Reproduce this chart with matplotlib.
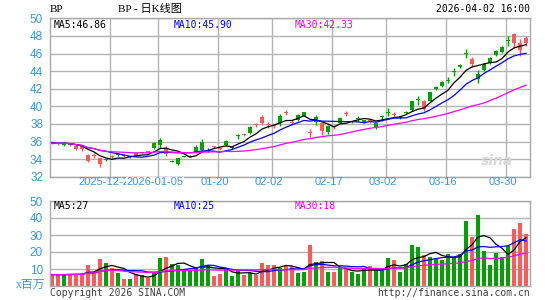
import matplotlib
matplotlib.use('Agg')
import matplotlib.pyplot as plt
import numpy as np
import pandas as pd

# ---------------- data ----------------
opens = [35.95, 35.80, 35.56, 35.68, 35.45, 35.50, 34.50, 34.47, 34.10, 33.90,
         34.35, 34.47, 34.50, 34.22, 34.65, 34.72, 34.83, 35.30, 35.56, 35.30,
         33.72, 33.45, 34.27, 34.27, 34.80, 35.00, 34.97, 35.43, 35.23, 35.60,
         35.27, 36.57, 36.83, 37.00, 37.93, 38.80, 37.93, 37.83, 38.05, 39.28,
         38.25, 38.42, 38.95, 37.00, 38.20, 38.14, 37.08, 37.68, 38.14, 39.19,
         38.19, 38.57, 38.14, 38.33, 37.60, 38.77, 39.27, 39.08, 38.67, 39.27,
         39.60, 40.67, 40.60, 40.60, 42.02, 42.30, 42.87, 43.87, 44.45, 45.91,
         45.35, 43.05, 44.10, 44.90, 45.78, 46.15, 47.37, 48.25, 47.20, 47.80]
closes = [35.85, 35.72, 35.86, 35.60, 35.20, 35.10, 33.80, 34.40, 33.40, 33.97,
          34.28, 34.53, 34.30, 34.28, 34.40, 34.78, 34.77, 35.85, 36.20, 34.60,
          33.78, 34.10, 34.33, 34.33, 35.35, 35.90, 35.03, 35.37, 35.17, 36.05,
          35.33, 36.63, 36.77, 37.70, 37.87, 38.10, 37.87, 37.77, 38.95, 39.22,
          38.15, 39.02, 39.30, 36.93, 38.80, 37.16, 37.76, 37.62, 38.67, 39.13,
          38.25, 38.63, 38.40, 38.27, 38.10, 38.83, 39.33, 39.02, 38.73, 39.33,
          40.55, 40.73, 39.70, 41.60, 42.08, 42.80, 42.93, 43.93, 44.75, 45.97,
          44.80, 43.70, 44.85, 45.50, 46.30, 46.75, 47.43, 47.20, 46.45, 47.20]
highs = [36.10, 35.90, 35.95, 35.80, 35.55, 35.60, 34.60, 34.65, 34.15, 34.05,
         34.50, 34.60, 34.55, 34.35, 34.70, 34.85, 34.90, 35.90, 36.40, 35.50,
         33.85, 34.15, 34.40, 34.45, 35.55, 36.30, 35.30, 35.50, 35.35, 36.15,
         35.50, 36.85, 36.95, 37.75, 38.05, 39.00, 38.20, 38.00, 39.10, 39.55,
         38.50, 39.10, 39.35, 37.40, 39.00, 38.20, 37.90, 37.85, 38.75, 39.45,
         38.35, 38.85, 38.45, 38.45, 38.15, 39.00, 39.80, 39.35, 38.85, 39.50,
         40.60, 41.20, 40.75, 41.65, 42.30, 42.85, 43.30, 44.30, 44.80, 46.50,
         45.60, 44.10, 44.90, 45.55, 46.35, 46.80, 48.00, 48.35, 47.60, 48.00]
lows = [35.70, 35.60, 35.45, 35.45, 35.05, 34.90, 33.70, 34.10, 33.15, 33.80,
        34.10, 34.40, 34.20, 34.15, 34.35, 34.65, 34.70, 35.20, 35.30, 34.40,
        33.65, 33.30, 34.20, 34.20, 34.70, 34.90, 34.85, 35.30, 35.05, 35.50,
        35.10, 36.30, 36.60, 36.90, 37.70, 37.90, 37.50, 37.50, 37.80, 39.05,
        37.90, 38.30, 38.85, 36.50, 37.85, 36.70, 36.80, 37.45, 38.05, 38.95,
        38.10, 38.30, 38.05, 38.15, 37.40, 38.30, 38.90, 38.75, 38.55, 39.10,
        39.50, 40.20, 39.50, 40.50, 41.80, 42.20, 42.60, 43.50, 44.40, 45.45,
        44.50, 42.70, 44.00, 44.80, 45.70, 46.05, 46.90, 46.60, 45.70, 46.80]
volumes = [6.7, 6.7, 6.7, 7.0, 7.0, 7.0, 12.4, 8.0, 15.9, 13.5,
           10.6, 7.6, 4.1, 4.1, 7.0, 6.3, 4.7, 7.6, 16.5, 17.0,
           13.0, 12.4, 8.6, 8.6, 10.6, 15.9, 12.4, 5.9, 7.0, 10.6,
           5.9, 8.6, 6.5, 7.5, 6.5, 13.5, 12.4, 12.4, 10.6, 11.6,
           11.8, 7.5, 8.2, 24.0, 14.0, 14.7, 8.2, 8.2, 10.6, 10.0,
           8.2, 7.0, 10.0, 11.8, 9.4, 9.4, 16.5, 15.3, 8.2, 13.0,
           24.0, 23.0, 18.2, 17.0, 16.5, 15.3, 18.8, 16.5, 18.8, 38.2,
           28.8, 41.8, 20.6, 12.4, 19.4, 17.0, 23.5, 33.5, 37.0, 30.6]
tick_idx = [10, 18, 28, 37, 47, 56, 66, 76]
tick_labels = ['2025-12-22', '2026-01-05', '01-20', '02-02', '02-17', '03-02', '03-16', '03-30']
price_ma_labels = ['MA5:46.86', 'MA10:45.90', 'MA30:42.33']
vol_ma_labels = ['MA5:27', 'MA10:25', 'MA30:18']
title_left = 'BP'
title_mid = 'BP - 日K线图'
title_right = '2026-04-02 16:00'
vol_unit = 'x百万'
copyright_text = 'Copyright 2026 SINA.COM'
url_text = 'http://finance.sina.com.cn'

# ---------------- styles ----------------
W, H = 545, 300
RED = '#ff5a5a'
GREEN = '#00a000'
BLUE_LBL = '#3a98d8'
GRID = '#b4b4b4'
MA_COLORS = ['#000000', '#0000ff', '#ff00ff']

o = np.array(opens); c = np.array(closes); hi = np.array(highs); lo = np.array(lows)
v = np.array(volumes)
n = len(o)
x = np.arange(n)
up = c >= o
cols = np.where(up, GREEN, RED)

fig = plt.figure(figsize=(W / 100, H / 100), dpi=100)
fig.patch.set_facecolor('white')

def fx(px):
    return px / W

def fy(py):
    return 1 - py / H

ax = fig.add_axes([fx(50), fy(176.7), (530 - 50) / W, (176.7 - 18.3) / H])
axv = fig.add_axes([fx(50), fy(286), (530 - 50) / W, (286 - 201) / H])

XL = (-0.33, n - 0.33)

for a in (ax, axv):
    a.set_xlim(*XL)
    for s in a.spines.values():
        s.set_color('#a8a8a8')
        s.set_linewidth(1.0)
    a.tick_params(axis='both', length=0)

# ---- price panel ----
ax.set_ylim(32, 50)
ax.set_yticks(np.arange(32, 51, 2))
ax.set_yticklabels([str(t) for t in range(32, 51, 2)], color=BLUE_LBL,
                   fontsize=8.5, family='Liberation Sans')
ax.tick_params(axis='y', pad=5)
ax.set_xticks(np.array(tick_idx) - 0.33)
ax.set_xticklabels([])
ax.grid(True, color=GRID, lw=1.0)
ax.set_axisbelow(True)

ax.vlines(x, lo, hi, colors=cols, lw=1.0, zorder=2)
body_bot = np.minimum(o, c)
body_h = np.maximum(np.abs(c - o), 0.12)
ax.bar(x, body_h, bottom=body_bot, width=0.75, color=cols, lw=0, zorder=3)

cs = pd.Series(c)
for win, col in zip([5, 10, 30], MA_COLORS):
    ax.plot(x, cs.rolling(win, min_periods=1).mean(), color=col, lw=0.9, zorder=4)

# header row of price panel
for lbl, px, col in zip(price_ma_labels, [54, 174, 295], MA_COLORS):
    fig.text(fx(px), fy(24.5), lbl, color=col, fontsize=7, family='DejaVu Sans Mono',
             ha='left', va='center')

ax.text(0.965, 0.1, 'sina', transform=ax.transAxes, color='#d9d9d9', fontsize=10,
        fontweight='bold', style='italic', ha='right', va='center', family='DejaVu Sans')

# date labels
for k, (ti, tl) in enumerate(zip(tick_idx, tick_labels)):
    xpx = 50 + (ti - XL[0] - 0.33) * 6 - 3
    kw = {}
    if k == 1:
        kw['bbox'] = dict(facecolor='white', edgecolor='none', pad=0.3)
    fig.text(fx(xpx), fy(182), tl, color=BLUE_LBL, fontsize=8, family='Liberation Sans',
             ha='center', va='center', **kw)

# ---- volume panel ----
axv.set_ylim(0, 50)
axv.set_yticks([10, 20, 30, 40, 50])
axv.set_yticklabels(['10', '20', '30', '40', '50'], color=BLUE_LBL, fontsize=8.5,
                    family='Liberation Sans')
axv.tick_params(axis='y', pad=5)
axv.set_xticks([])
axv.yaxis.grid(True, color=GRID, lw=1.0)
axv.set_axisbelow(True)
axv.bar(x, v, width=0.8, color=cols, lw=0, zorder=2)
vs = pd.Series(v)
for win, col in zip([5, 10, 30], MA_COLORS):
    axv.plot(x, vs.rolling(win, min_periods=1).mean(), color=col, lw=0.9, zorder=3)

for lbl, px, col in zip(vol_ma_labels, [54, 174, 295], MA_COLORS):
    fig.text(fx(px), fy(206), lbl, color=col, fontsize=7, family='DejaVu Sans Mono',
             ha='left', va='center')

fig.text(fx(45), fy(285), vol_unit, color=BLUE_LBL, fontsize=8.5,
         family=['Liberation Serif', 'Noto Sans CJK SC'], ha='right', va='center')

# ---- titles / footer ----
fig.text(fx(50), fy(9), title_left, color='black', fontsize=8, family='Liberation Serif',
         ha='left', va='center')
fig.text(fx(118), fy(9), title_mid, color='black', fontsize=8,
         family=['Liberation Serif', 'Noto Sans CJK SC'], ha='left', va='center')
fig.text(fx(530), fy(9), title_right, color='black', fontsize=7, family='DejaVu Sans Mono',
         ha='right', va='center')
fig.text(fx(50), fy(293), copyright_text, color='#404040', fontsize=7,
         family='DejaVu Sans Mono', ha='left', va='center')
fig.text(fx(530), fy(293), url_text, color='#404040', fontsize=7,
         family='DejaVu Sans Mono', ha='right', va='center')

fig.savefig('out.png', dpi=100, facecolor='white')
